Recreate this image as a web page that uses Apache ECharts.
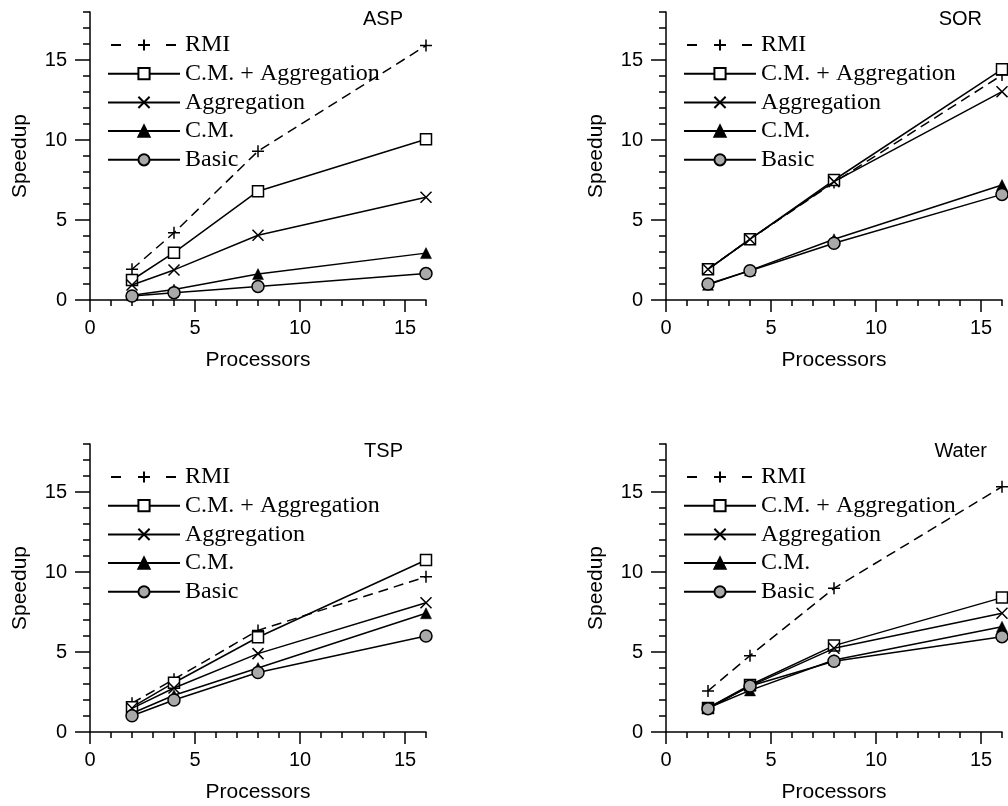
<!DOCTYPE html>
<html><head><meta charset="utf-8">
<script src="https://cdn.jsdelivr.net/npm/echarts@6/dist/echarts.min.js"></script>
<style>html,body{margin:0;padding:0;background:#fff}#c{width:1008px;height:806px}</style>
</head><body><div id="c"></div>
<script>
const processors = [2, 4, 8, 16];
const seriesNames = ['RMI', 'C.M. + Aggregation', 'Aggregation', 'C.M.', 'Basic'];
const panelTitles = ['ASP', 'SOR', 'TSP', 'Water'];
const xTickLabels = [0, 5, 10, 15];
const yTickLabels = [0, 5, 10, 15];

const aspRMI = [1.92, 4.2, 9.3, 15.9];
const aspCMAgg = [1.25, 2.96, 6.8, 10.05];
const aspAgg = [0.94, 1.88, 4.05, 6.42];
const aspCM = [0.3, 0.65, 1.62, 2.93];
const aspBasic = [0.25, 0.46, 0.85, 1.65];

const sorRMI = [1.92, 3.8, 7.35, 14.06];
const sorCMAgg = [1.92, 3.8, 7.5, 14.42];
const sorAgg = [1.92, 3.8, 7.4, 13.02];
const sorCM = [0.95, 1.85, 3.8, 7.19];
const sorBasic = [1.0, 1.83, 3.55, 6.6];

const tspRMI = [1.8, 3.3, 6.35, 9.7];
const tspCMAgg = [1.55, 3.08, 5.92, 10.75];
const tspAgg = [1.48, 2.75, 4.9, 8.08];
const tspCM = [1.17, 2.3, 4.0, 7.42];
const tspBasic = [1.02, 2.0, 3.72, 6.0];

const waterRMI = [2.57, 4.77, 8.98, 15.33];
const waterCMAgg = [1.5, 2.94, 5.4, 8.4];
const waterAgg = [1.5, 2.87, 5.23, 7.42];
const waterCM = [1.5, 2.6, 4.5, 6.58];
const waterBasic = [1.46, 2.88, 4.42, 5.96];

const panelData = [
  [aspRMI, aspCMAgg, aspAgg, aspCM, aspBasic],
  [sorRMI, sorCMAgg, sorAgg, sorCM, sorBasic],
  [tspRMI, tspCMAgg, tspAgg, tspCM, tspBasic],
  [waterRMI, waterCMAgg, waterAgg, waterCM, waterBasic]
];

const SANS = 'Liberation Sans, Arial, sans-serif';
const SERIF = 'Liberation Serif, Times New Roman, serif';
const plusPath = 'path://M5,0L5,10M0,5L10,5';
const crossPath = 'path://M0,0L10,10M10,0L0,10';

const styles = [
  {symbol: plusPath, symbolSize: 12, dash: [10, 6], item: {color: '#000', borderColor: '#000', borderWidth: 1.5}},
  {symbol: 'rect', symbolSize: 11, dash: 'solid', item: {color: '#fff', borderColor: '#000', borderWidth: 1.5}},
  {symbol: crossPath, symbolSize: 11, dash: 'solid', item: {color: '#000', borderColor: '#000', borderWidth: 1.5}},
  {symbol: 'triangle', symbolSize: 11, dash: 'solid', item: {color: '#000', borderColor: '#000', borderWidth: 0.5}},
  {symbol: 'circle', symbolSize: 12, dash: 'solid', item: {color: '#a9a9a9', borderColor: '#000', borderWidth: 1.5}}
];

const gridPos = [
  {left: 90, top: 12}, {left: 666, top: 12},
  {left: 90, top: 444}, {left: 666, top: 444}
];
const titleRight = [605, 26, 605, 21];

const grids = [], xAxes = [], yAxes = [], series = [], legends = [], titles = [];
const black = {color: '#000', width: 1.5};

panelData.forEach((sets, k) => {
  const g = gridPos[k];
  grids.push({left: g.left, top: g.top, width: 336, height: 288, containLabel: false});
  titles.push({text: panelTitles[k], right: titleRight[k], top: g.top - 3, padding: 0,
    textStyle: {fontFamily: SANS, fontSize: 20, fontWeight: 'normal', color: '#000'}});
  xAxes.push({
    type: 'value', gridIndex: k, min: 0, max: 16, interval: 1, position: 'bottom',
    axisLine: {lineStyle: black}, axisTick: {length: 6, lineStyle: black},
    axisLabel: {margin: 18, fontSize: 20, fontFamily: SANS, color: '#000',
      formatter: v => xTickLabels.includes(v) ? String(v) : ''},
    splitLine: {show: false},
    name: 'Processors', nameLocation: 'middle', nameGap: 50,
    nameTextStyle: {fontFamily: SANS, fontSize: 21, color: '#000'}
  });
  xAxes.push({
    type: 'value', gridIndex: k, min: 0, max: 16, interval: 5, position: 'bottom',
    axisLine: {show: false}, axisTick: {length: 12, lineStyle: black, customValues: xTickLabels},
    axisLabel: {show: false}, splitLine: {show: false}
  });
  yAxes.push({
    type: 'value', gridIndex: k, min: 0, max: 18, interval: 1, position: 'left',
    axisLine: {show: true, lineStyle: black}, axisTick: {show: true, length: 7, lineStyle: black},
    axisLabel: {margin: 23, fontSize: 20, fontFamily: SANS, color: '#000',
      formatter: v => yTickLabels.includes(v) ? String(v) : ''},
    splitLine: {show: false},
    name: 'Speedup', nameLocation: 'middle', nameGap: 59,
    nameTextStyle: {fontFamily: SANS, fontSize: 21, color: '#000'}
  });
  yAxes.push({
    type: 'value', gridIndex: k, min: 0, max: 18, interval: 5, position: 'left',
    axisLine: {show: false}, axisTick: {show: true, length: 15, lineStyle: black, customValues: yTickLabels},
    axisLabel: {show: false}, splitLine: {show: false}
  });
  legends.push({
    orient: 'vertical', left: g.left + 17, top: g.top + 21, padding: 0,
    itemWidth: 72, itemHeight: 14, itemGap: 4.7, selectedMode: false,
    textStyle: {fontFamily: SERIF, fontSize: 24, color: '#000', lineHeight: 24},
    data: seriesNames.map((n, i) => i === 0
      ? {name: n, lineStyle: {type: [0.01, 3, 10, 17, 12, 16, 10, 100]}}
      : {name: n})
  });
  sets.forEach((vals, i) => {
    const s = styles[i];
    series.push({
      type: 'line', name: seriesNames[i], xAxisIndex: 2 * k, yAxisIndex: 2 * k,
      data: processors.map((p, j) => [p, vals[j]]),
      symbol: s.symbol, symbolSize: s.symbolSize, showAllSymbol: true,
      lineStyle: {color: '#000', width: 1.5, type: s.dash},
      itemStyle: s.item, color: '#000',
      emphasis: {disabled: true}, animation: false, z: 2 + i
    });
  });
});

const chart = echarts.init(document.getElementById('c'), null, {renderer: 'canvas'});
chart.setOption({
  animation: false, backgroundColor: '#fff',
  title: titles, grid: grids, xAxis: xAxes, yAxis: yAxes, legend: legends, series: series
});
</script></body></html>
